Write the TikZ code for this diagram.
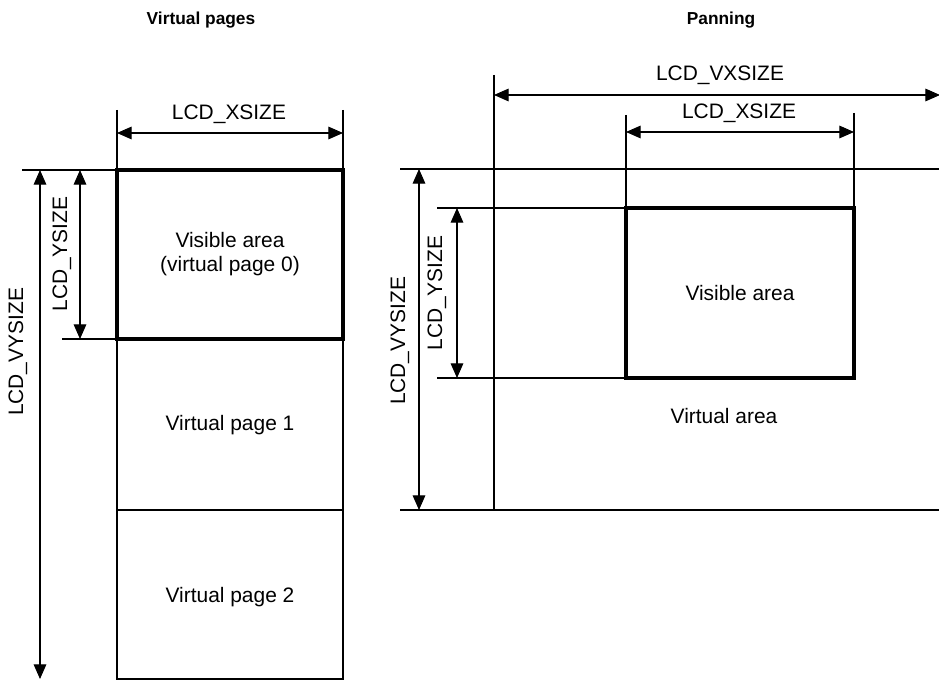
\documentclass[tikz,border=0pt]{standalone}
\usepackage{fontspec}
\setmainfont{Liberation Sans}
\usetikzlibrary{arrows.meta}
\begin{document}
\begin{tikzpicture}[x=0.75pt,y=-0.75pt,
  thinbox/.style={line width=1.1pt},
  thickbox/.style={line width=3pt},
  ext/.style={line width=0.8pt},
  dim/.style={line width=0.8pt,{Triangle[length=11pt,width=9.5pt]}-{Triangle[length=11pt,width=9.5pt]}},
  lbl/.style={font=\fontsize{15.7}{18.5}\selectfont, inner sep=0pt, align=center},
  ttl/.style={font=\bfseries\fontsize{13}{16}\selectfont, inner sep=0pt}]
\useasboundingbox (0,0) rectangle (939,680);
\fill[white] (0,0) rectangle (939,680);

% ---------- left: virtual pages ----------
\node[ttl] (t1) at (201,20) {Virtual pages};
\coordinate (L1) at (117,170); \coordinate (R1) at (343,170);
\coordinate (L2) at (117,339); \coordinate (R2) at (343,339);
\coordinate (L3) at (117,510); \coordinate (R3) at (343,510);
\coordinate (L4) at (117,679); \coordinate (R4) at (343,679);
\draw[thinbox] (L2) rectangle (R4);
\draw[thinbox] (L3) -- (R3);
\draw[thickbox] (L1) rectangle (R2);

\node[lbl] (p0) at (230,254) {Visible area\\(virtual page 0)};
\node[lbl] (p1) at (230,425) {Virtual page 1};
\node[lbl] (p2) at (230,597) {Virtual page 2};

% extension lines
\coordinate (eL1) at (117,110); \coordinate (eR1) at (343,110);
\coordinate (eT) at (22,170); \coordinate (eB) at (62,339);
\draw[ext] (eL1) -- (L1);
\draw[ext] (eR1) -- (R1);
\draw[ext] (eT) -- (L1);
\draw[ext] (eB) -- (L2);

% dimensions
\coordinate (xa) at (117,133); \coordinate (xb) at (343,133);
\draw[dim] (xa) -- (xb);
\node[lbl] (lx) at (229,114) {LCD\_XSIZE};

\coordinate (va) at (40,170); \coordinate (vb) at (40,679);
\draw[dim] (va) -- (vb);
\node[lbl, rotate=90] (lvy) at (18,352) {LCD\_VYSIZE};

\coordinate (ya) at (80,170); \coordinate (yb) at (80,339);
\draw[dim] (ya) -- (yb);
\node[lbl, rotate=90] (ly) at (62,254) {LCD\_YSIZE};

% ---------- right: panning ----------
\node[ttl] (t2) at (721,20) {Panning};
\coordinate (VL1) at (494,169); \coordinate (VR1) at (945,169);
\coordinate (VL2) at (494,510); \coordinate (VR2) at (945,510);
\draw[thinbox] (VR1) -- (VL1) -- (VL2) -- (VR2);

\coordinate (S1) at (626,208); \coordinate (S2) at (854,378);
\draw[thickbox] (S1) rectangle (S2);
\node[lbl] (sv) at (740,293) {Visible area};
\node[lbl] (va2) at (724,416) {Virtual area};

% extension lines
\coordinate (eV1) at (494,75);
\coordinate (eS1) at (626,115); \coordinate (eS2) at (854,113);
\coordinate (eS1b) at (854,208);
\coordinate (eH1) at (400,169); \coordinate (eH2) at (400,510);
\coordinate (eH3) at (437,208); \coordinate (eH4) at (437,378);
\coordinate (S3) at (626,378);
\draw[ext] (eV1) -- (VL1);
\draw[ext] (eS1) -- (S1);
\draw[ext] (eS2) -- (eS1b);
\draw[ext] (eH1) -- (VL1);
\draw[ext] (eH2) -- (VL2);
\draw[ext] (eH3) -- (S1);
\draw[ext] (eH4) -- (S3);

% dimensions
\coordinate (vxa) at (494,95); \coordinate (vxb) at (940,95);
\draw[dim] (vxa) -- (vxb);
\node[lbl] (lvx) at (720,75) {LCD\_VXSIZE};

\coordinate (xa2) at (626,132); \coordinate (xb2) at (854,132);
\draw[dim] (xa2) -- (xb2);
\node[lbl] (lx2) at (739,113) {LCD\_XSIZE};

\coordinate (vya) at (419,169); \coordinate (vyb) at (419,510);
\draw[dim] (vya) -- (vyb);
\node[lbl, rotate=90] (lvy2) at (400,341) {LCD\_VYSIZE};

\coordinate (ya2) at (457,208); \coordinate (yb2) at (457,378);
\draw[dim] (ya2) -- (yb2);
\node[lbl, rotate=90] (ly2) at (437,293) {LCD\_YSIZE};
\end{tikzpicture}
\end{document}
